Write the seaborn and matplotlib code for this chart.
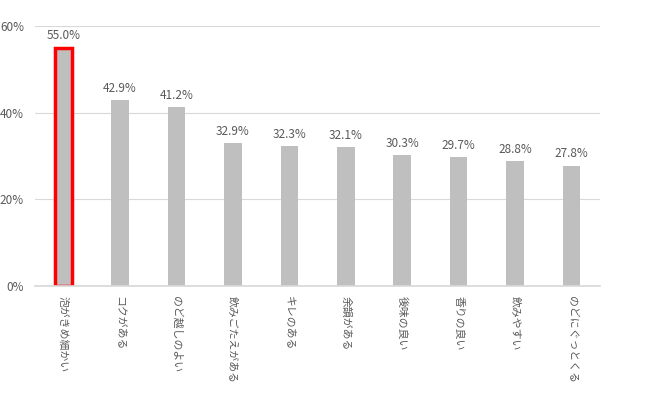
import matplotlib
matplotlib.use("Agg")
import matplotlib.pyplot as plt
import seaborn as sns
import pandas as pd

categories = ["泡がきめ細かい", "コクがある", "のど越しのよい", "飲みごたえがある", "キレのある",
              "余韻がある", "後味の良い", "香りの良い", "飲みやすい", "のどにぐっとくる"]
values = [55.0, 42.9, 41.2, 32.9, 32.3, 32.1, 30.3, 29.7, 28.8, 27.8]
yticks = [0, 20, 40, 60]
ytick_labels = ["0%", "20%", "40%", "60%"]

sns.set_theme(style="white")
plt.rcParams['font.family'] = ['Noto Sans CJK JP', 'DejaVu Sans']

df = pd.DataFrame({"cat": categories, "val": values})

fig = plt.figure(figsize=(6.5, 3.93), dpi=100)
ax = fig.add_axes([0.054, 0.272, 0.869, 0.662])
sns.barplot(data=df, x="cat", y="val", color="#BFBFBF", width=0.31, ax=ax,
            saturation=1, linewidth=0)

ax.set_ylim(0, 60)
ax.set_xlim(-0.5, len(categories) - 0.5)
ax.set_yticks(yticks)
ax.set_yticklabels(ytick_labels, fontsize=8.5, color="#595959")
ax.yaxis.grid(True, color="#D9D9D9", linewidth=0.8)
ax.set_axisbelow(True)
for s in ["top", "right", "left"]:
    ax.spines[s].set_visible(False)
ax.spines["bottom"].set_color("#D9D9D9")
ax.tick_params(axis="y", length=0, pad=8)
ax.tick_params(axis="x", length=0, pad=7)
ax.set_xlabel("")
ax.set_ylabel("")

ax.set_xticks(range(len(categories)))
ax.set_xticklabels(categories, rotation=270, fontsize=7.8, color="#595959",
                   va="top", ha="center")

patches = ax.patches
patches[0].set_edgecolor("#FF0000")
patches[0].set_linewidth(2.5)

for i, v in enumerate(values):
    ax.text(i, v + 1.2, f"{v:.1f}%", ha="center", va="bottom", fontsize=8.5, color="#595959")

fig.savefig("out.png", dpi=100, facecolor="white")
